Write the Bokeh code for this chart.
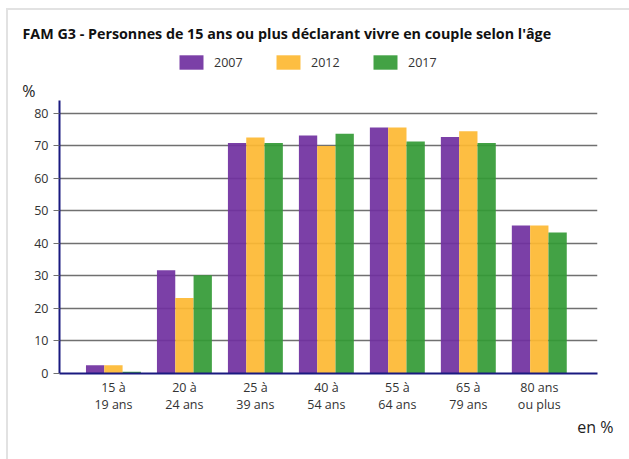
from bokeh.plotting import figure
from bokeh.models import (ColumnDataSource, Range1d, FixedTicker, Title, Legend, LegendItem,
                          LinearAxis)
from bokeh.transform import dodge
from bokeh.embed import file_html
from bokeh.resources import INLINE

categories = ["15 à\n19 ans", "20 à\n24 ans", "25 à\n39 ans", "40 à\n54 ans",
              "55 à\n64 ans", "65 à\n79 ans", "80 ans\nou plus"]
years = ["2007", "2012", "2017"]
v2007 = [2.5, 31.8, 70.9, 73.2, 75.7, 72.8, 45.5]
v2012 = [2.5, 23.2, 72.6, 70.0, 75.7, 74.5, 45.5]
v2017 = [0.5, 30.2, 70.9, 73.8, 71.4, 70.9, 43.4]
y_ticks = [0, 10, 20, 30, 40, 50, 60, 70, 80]
colors = ["#7030a0", "#fdb832", "#339a35"]

FONT = "Open Sans"
src = ColumnDataSource(dict(x=list(range(len(categories))), v2007=v2007, v2012=v2012, v2017=v2017))

frame_line = "linear-gradient(#e2e2e2, #e2e2e2)"
p = figure(frame_width=538, frame_height=328,
           min_border_left=59, min_border_right=32, min_border_top=45, min_border_bottom=86,
           x_range=Range1d(-0.76, 6.82), y_range=Range1d(0, 100.92),
           output_backend="svg", toolbar_location=None,
           styles={"background": f"{frame_line} 6px 8px / 2px 100% no-repeat, "
                                 f"{frame_line} 6px 8px / 100% 2px no-repeat, white"})
p.outline_line_color = None
p.background_fill_color = "white"
p.border_fill_color = None

bw = 0.258
renderers = []
for i, (yr, col) in enumerate(zip(years, colors)):
    r = p.vbar(x=dodge("x", (i - 1) * bw, range=p.x_range), top="v" + yr, width=bw,
               source=src, fill_color=col, fill_alpha=0.92, line_color=None)
    renderers.append(r)

p.xgrid.grid_line_color = None
p.ygrid.grid_line_color = "#707070"
p.ygrid.grid_line_width = 1.3
p.ygrid.ticker = FixedTicker(ticks=y_ticks)

p.yaxis.ticker = FixedTicker(ticks=y_ticks)
p.yaxis.bounds = (0, 84)
p.yaxis.axis_line_color = "#1a1a80"
p.yaxis.axis_line_width = 2
p.yaxis.major_tick_line_color = "#707070"
p.yaxis.major_tick_out = 6
p.yaxis.major_tick_in = 0
p.yaxis.minor_tick_line_color = None
p.yaxis.major_label_standoff = 5
p.yaxis.major_label_text_font = FONT
p.yaxis.major_label_text_font_size = "12.5px"
p.yaxis.major_label_text_color = "#333333"

# unit label "%" at the top of the value axis
unit_axis = LinearAxis(ticker=FixedTicker(ticks=[87]), major_label_overrides={87: "%"},
                       axis_line_color=None, major_tick_line_color=None,
                       minor_tick_line_color=None, major_label_standoff=-10,
                       major_label_text_font=FONT, major_label_text_font_size="16px",
                       major_label_text_color="#222222")
p.add_layout(unit_axis, "left")

p.xaxis.ticker = FixedTicker(ticks=list(range(len(categories))))
p.xaxis.major_label_overrides = {i: c for i, c in enumerate(categories)}
p.xaxis.axis_line_color = "#1a1a80"
p.xaxis.axis_line_width = 2
p.xaxis.major_tick_line_color = None
p.xaxis.minor_tick_line_color = None
p.xaxis.major_label_standoff = -1
p.xaxis.major_label_text_font = FONT
p.xaxis.major_label_text_font_size = "12.5px"
p.xaxis.major_label_text_line_height = 1.0
p.xaxis.major_label_text_color = "#333333"

legend = Legend(items=[LegendItem(label=yr, renderers=[r]) for yr, r in zip(years, renderers)],
                orientation="horizontal", location=(117, 302),
                glyph_width=30, glyph_height=18, label_standoff=8, spacing=30,
                label_width=29,
                label_text_font=FONT, label_text_font_size="12.5px", label_text_color="#333333",
                label_height=18, padding=0, margin=0, border_line_color=None,
                background_fill_alpha=0)
p.add_layout(legend, "center")

p.add_layout(Title(text="FAM G3 - Personnes de 15 ans ou plus déclarant vivre en couple selon l'âge",
                   align="left", offset=-37, standoff=5,
                   text_font=FONT, text_font_size="14.3px", text_font_style="bold",
                   text_color="#111111"), "above")

p.add_layout(Title(text="en %", align="right", offset=-16, standoff=-3,
                   text_font=FONT, text_font_size="16px", text_font_style="normal",
                   text_color="#222222"), "below")

open("out.html", "w").write(file_html(p, INLINE))
